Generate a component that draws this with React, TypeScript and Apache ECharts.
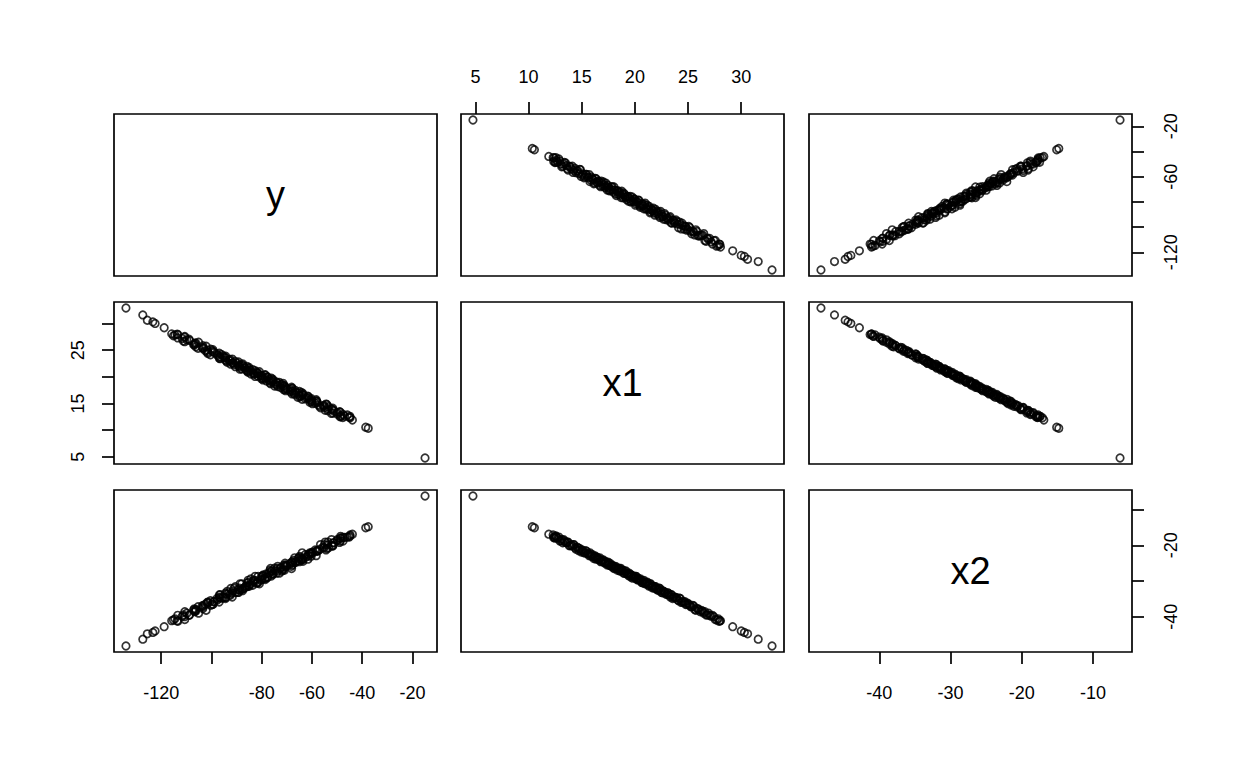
import React, { useEffect, useRef } from "react";
import * as echarts from "echarts";

const VAR_NAMES = ["y", "x1", "x2"];

const X1_VALS = [
  4.77, 10.35, 10.55, 11.9, 29.2, 30.0, 30.3, 30.6, 31.6, 32.9,
  12.31, 12.48, 12.62, 12.85, 13.04, 13.22, 13.37, 13.58, 13.71, 13.93,
  14.12, 14.26, 14.47, 14.63, 14.81, 14.95, 15.14, 15.29, 15.46, 15.62,
  15.77, 15.91, 16.08, 16.21, 16.36, 16.49, 16.63, 16.78, 16.92, 17.05,
  17.19, 17.33, 17.46, 17.58, 17.72, 17.86, 17.98, 18.11, 18.25, 18.37,
  18.52, 18.64, 18.77, 18.89, 19.03, 19.16, 19.28, 19.41, 19.55, 19.67,
  19.8, 19.93, 20.06, 20.18, 20.31, 20.45, 20.57, 20.7, 20.84, 20.96,
  21.09, 21.23, 21.35, 21.48, 21.62, 21.75, 21.89, 22.02, 22.16, 22.29,
  22.43, 22.58, 22.71, 22.87, 23.01, 23.16, 23.32, 23.47, 23.63, 23.78,
  23.94, 24.11, 24.27, 24.44, 24.62, 24.79, 24.97, 25.16, 25.34, 25.53,
  25.73, 25.94, 26.15, 26.37, 26.58, 26.81, 27.04, 27.29, 27.56, 27.84,
  28.05, 27.92, 12.4, 12.55,
  12.36, 12.58, 12.74, 12.93, 13.12, 13.29, 13.46, 13.64, 13.83, 14.02,
  14.19, 14.38, 14.55, 14.72, 14.88, 15.05, 15.21, 15.38, 15.54, 15.7,
  15.84, 15.99, 16.14, 16.28, 16.42, 16.56, 16.7, 16.85, 16.98, 17.12,
  17.26, 17.39, 17.52, 17.65, 17.79, 17.92, 18.04, 18.18, 18.31, 18.45,
  18.58, 18.7, 18.83, 18.96, 19.09, 19.22, 19.35, 19.48, 19.61, 19.74,
  19.87, 20.0, 20.12, 20.25, 20.38, 20.51, 20.64, 20.77, 20.9, 21.03,
  21.16, 21.29, 21.42, 21.55, 21.68, 21.82, 21.96, 22.09, 22.23, 22.36,
  22.5, 22.65, 22.79, 22.94, 23.09, 23.24, 23.4, 23.55, 23.71, 23.86,
  24.03, 24.19, 24.36, 24.53, 24.71, 24.88, 25.07, 25.25, 25.44, 25.63,
  25.84, 26.04, 26.26, 26.48, 26.7, 26.93, 27.17, 27.43, 27.7, 27.99,
];

const X2_VALS = [
  -6.2, -14.8, -15.1, -16.9, -42.8, -44.0, -44.4, -44.8, -46.3, -48.2,
  -17.1, -18.0, -17.8, -17.7, -18.7, -19.3, -18.8, -19.3, -19.1, -20.1,
  -20.2, -19.8, -21.1, -20.7, -20.9, -21.9, -21.6, -22.1, -21.7, -22.4,
  -22.1, -23.1, -23.2, -23.1, -23.9, -23.4, -23.8, -24.6, -24.3, -24.1,
  -25.0, -24.8, -24.7, -25.6, -25.7, -25.5, -26.3, -26.0, -26.4, -27.0,
  -26.4, -27.1, -26.9, -27.0, -27.8, -27.2, -28.0, -28.5, -28.2, -28.3,
  -29.2, -28.9, -28.7, -29.5, -29.2, -29.8, -29.8, -30.5, -29.8, -30.8,
  -30.4, -30.9, -31.2, -30.8, -31.9, -31.5, -31.6, -32.2, -32.6, -32.0,
  -32.7, -33.3, -32.9, -33.2, -33.7, -33.4, -34.5, -33.9, -34.6, -34.7,
  -34.7, -35.5, -34.9, -35.9, -35.9, -36.6, -36.2, -36.8, -37.2, -37.0,
  -38.2, -37.8, -38.6, -38.5, -38.6, -39.5, -39.6, -39.6, -40.8, -40.6,
  -41.1, -41.3, -17.7, -17.5,
  -17.8, -17.4, -18.0, -18.8, -18.4, -18.4, -19.2, -19.1, -20.1, -19.9,
  -19.8, -20.7, -20.5, -21.5, -21.3, -21.3, -22.1, -21.5, -22.4, -22.9,
  -22.6, -22.6, -23.7, -23.0, -23.6, -24.0, -23.5, -24.5, -24.2, -24.8,
  -24.6, -25.5, -25.3, -25.0, -25.9, -25.8, -26.5, -25.9, -26.5, -26.5,
  -27.2, -26.5, -27.2, -27.8, -27.3, -28.0, -27.9, -27.8, -28.9, -28.6,
  -28.6, -29.1, -28.7, -29.7, -29.6, -29.4, -30.4, -30.0, -30.6, -30.5,
  -30.3, -31.4, -30.8, -31.3, -31.6, -32.0, -31.6, -32.4, -32.3, -32.1,
  -33.2, -32.8, -33.2, -33.7, -33.3, -34.0, -33.8, -34.9, -34.5, -34.6,
  -35.3, -34.8, -36.0, -35.8, -35.8, -36.5, -36.5, -37.2, -36.8, -38.0,
  -37.7, -38.1, -38.2, -39.0, -39.5, -39.0, -39.9, -40.0, -40.9, -41.1,
];

const Y_VALS = [
  -15.0, -37.6, -38.6, -43.9, -118.8, -122.4, -123.3, -125.5, -127.3, -134.0,
  -44.8, -48.8, -47.0, -45.9, -50.0, -51.7, -48.7, -51.3, -54.7, -52.1,
  -51.7, -55.0, -56.8, -55.2, -54.1, -59.8, -57.8, -60.1, -58.2, -60.7,
  -63.9, -60.3, -62.2, -64.9, -61.6, -65.0, -63.8, -67.9, -65.3, -64.1,
  -68.6, -67.8, -66.7, -71.2, -70.0, -67.8, -72.4, -70.6, -74.9, -71.0,
  -72.6, -74.7, -71.5, -76.7, -74.1, -76.2, -75.6, -79.5, -75.6, -79.4,
  -78.7, -77.6, -82.6, -79.8, -78.7, -83.1, -82.7, -81.5, -85.4, -80.9,
  -85.3, -84.6, -83.6, -87.9, -86.8, -85.0, -90.5, -87.4, -88.7, -91.0,
  -87.6, -91.7, -93.7, -90.5, -92.6, -94.5, -91.7, -96.8, -94.7, -96.6,
  -95.4, -100.4, -97.8, -96.9, -101.5, -99.6, -101.6, -100.3, -105.3, -103.7,
  -102.1, -106.8, -106.7, -106.3, -110.6, -108.7, -108.9, -113.4, -110.6, -114.5,
  -115.8, -113.4, -45.1, -48.6,
  -47.7, -44.9, -48.5, -47.6, -52.2, -49.9, -49.0, -53.6, -51.7, -53.7,
  -56.6, -53.4, -55.5, -57.5, -54.4, -58.7, -60.8, -58.1, -60.1, -58.3,
  -62.6, -61.5, -65.6, -61.4, -64.4, -63.6, -66.9, -63.6, -67.3, -66.5,
  -65.0, -70.5, -68.6, -70.7, -68.2, -70.6, -68.1, -73.6, -71.4, -73.9,
  -72.0, -76.5, -73.8, -73.0, -76.1, -78.1, -75.6, -77.2, -80.1, -76.1,
  -79.8, -77.8, -81.4, -80.3, -78.6, -84.3, -81.8, -83.3, -82.0, -85.7,
  -82.7, -86.1, -88.6, -85.3, -86.6, -88.8, -85.9, -89.3, -87.7, -92.3,
  -89.6, -91.4, -89.2, -94.1, -93.1, -92.5, -96.6, -94.4, -96.8, -94.3,
  -97.6, -96.0, -101.4, -98.9, -99.2, -102.4, -99.4, -103.3, -103.2, -106.2,
  -103.4, -107.1, -106.4, -105.1, -111.2, -109.8, -111.6, -110.7, -115.1, -113.6,
];

const X1_TICKS = [5, 10, 15, 20, 25, 30];
const Y_TICKS = [-120, -100, -80, -60, -40, -20];
const X2_TICKS = [-40, -30, -20, -10];
const X1_TOP_LABELS = [5, 10, 15, 20, 25, 30];
const Y_RIGHT_LABELS = [-120, -60, -20];
const X1_LEFT_LABELS = [5, 15, 25];
const Y_BOTTOM_LABELS = [-120, -80, -60, -40, -20];
const X2_BOTTOM_LABELS = [-40, -30, -20, -10];
const X2_RIGHT_LABELS = [-40, -20];

const COL_LEFT = [114, 461, 809];
const ROW_TOP = [114, 302, 490];
const PANEL_W = 323;
const PANEL_H = 162;
const FONT = "'Liberation Sans', Arial, Helvetica, sans-serif";

function padRange(a: number[]): [number, number] {
  const mn = Math.min(...a);
  const mx = Math.max(...a);
  const p = (mx - mn) * 0.04;
  return [mn - p, mx + p];
}

function buildOption() {
  const vars = [Y_VALS, X1_VALS, X2_VALS];
  const ranges = vars.map(padRange);
  const grids: any[] = [];
  const xAxes: any[] = [];
  const yAxes: any[] = [];
  const series: any[] = [];
  const graphics: any[] = [];

  const baseAxis = (gridIndex: number, rng: [number, number], position: string) => ({
    type: "value",
    gridIndex,
    min: rng[0],
    max: rng[1],
    position,
    axisLine: { show: false },
    axisTick: { show: false },
    axisLabel: { show: false },
    splitLine: { show: false },
  });

  const outer = (ax: any, ticks: number[], labels: number[], margin: number, rotate: number) => {
    ax.axisTick = {
      show: true,
      inside: false,
      length: 12,
      customValues: ticks,
      lineStyle: { color: "#000", width: 1.7 },
    };
    ax.axisLabel = {
      show: true,
      customValues: labels,
      margin,
      rotate,
      fontSize: 18,
      color: "#000",
      fontFamily: FONT,
    };
    return ax;
  };

  for (let r = 0; r < 3; r++) {
    for (let c = 0; c < 3; c++) {
      const i = r * 3 + c;
      grids.push({
        left: COL_LEFT[c],
        top: ROW_TOP[r],
        width: PANEL_W,
        height: PANEL_H,
        show: true,
        borderColor: "#000",
        borderWidth: 1.7,
        backgroundColor: "transparent",
      });
      xAxes.push(baseAxis(i, ranges[c], r === 0 ? "top" : "bottom"));
      yAxes.push(baseAxis(i, ranges[r], c === 0 ? "left" : "right"));
      if (r !== c) {
        series.push({
          type: "scatter",
          xAxisIndex: i,
          yAxisIndex: i,
          data: vars[c].map((v, k) => [v, vars[r][k]]),
          symbol: "circle",
          symbolSize: 7.5,
          silent: true,
          itemStyle: { color: "rgba(0,0,0,0)", borderColor: "#000", borderWidth: 1.7 },
          emphasis: { disabled: true },
        });
      } else {
        graphics.push({
          type: "text",
          x: COL_LEFT[c] + PANEL_W / 2,
          y: ROW_TOP[r] + PANEL_H / 2,
          style: {
            text: VAR_NAMES[r],
            fontSize: 38,
            fontFamily: FONT,
            fill: "#000",
            align: "center",
            verticalAlign: "middle",
          },
        });
      }
    }
  }

  outer(xAxes[1], X1_TICKS, X1_TOP_LABELS, 28, 0);
  outer(yAxes[2], Y_TICKS, Y_RIGHT_LABELS, 30, 90);
  outer(yAxes[3], X1_TICKS, X1_LEFT_LABELS, 27, 90);
  outer(xAxes[6], Y_TICKS, Y_BOTTOM_LABELS, 32, 0);
  outer(xAxes[8], X2_TICKS, X2_BOTTOM_LABELS, 32, 0);
  outer(yAxes[8], X2_TICKS, X2_RIGHT_LABELS, 30, 90);

  return {
    animation: false,
    backgroundColor: "#fff",
    grid: grids,
    xAxis: xAxes,
    yAxis: yAxes,
    series,
    graphic: graphics,
  };
}

export default function App() {
  const ref = useRef<HTMLDivElement | null>(null);
  useEffect(() => {
    if (!ref.current) return;
    const chart = echarts.init(ref.current, null, { renderer: "svg" });
    chart.setOption(buildOption() as any);
    return () => chart.dispose();
  }, []);
  return (
    <div
      ref={ref}
      style={{ position: "fixed", left: 0, top: 0, width: 1248, height: 768, background: "#fff" }}
    />
  );
}
